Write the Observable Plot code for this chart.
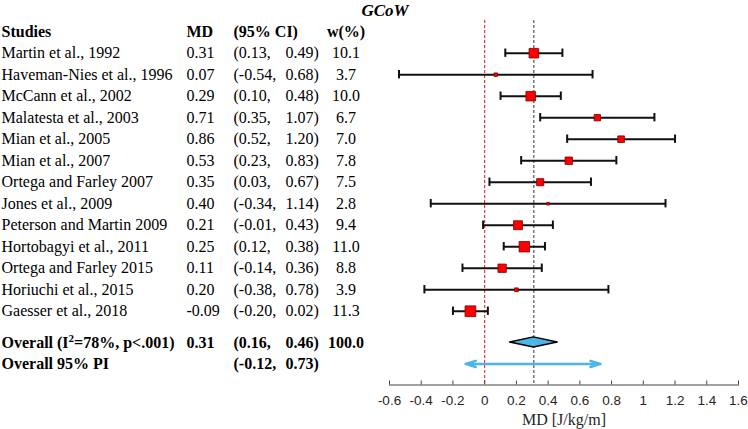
<!DOCTYPE html>
<html><head><meta charset="utf-8">
<script src="https://cdn.jsdelivr.net/npm/d3@7"></script>
<script src="https://cdn.jsdelivr.net/npm/@observablehq/plot@0.6"></script>
<style>body{margin:0;background:#fff;} svg{display:block}</style>
</head><body><div id="chart"></div>
<script>
// ---- data ----
const title = "GCoW";
const headers = ["Studies", "MD", "(95% CI)", "w(%)"];
const studies = [
  "Martin et al., 1992", "Haveman-Nies et al., 1996", "McCann et al., 2002",
  "Malatesta et al., 2003", "Mian et al., 2005", "Mian et al., 2007",
  "Ortega and Farley 2007", "Jones et al., 2009", "Peterson and Martin 2009",
  "Hortobagyi et al., 2011", "Ortega and Farley 2015", "Horiuchi et al., 2015",
  "Gaesser et al., 2018"
];
const md     = [0.31, 0.07, 0.29, 0.71, 0.86, 0.53, 0.35, 0.40, 0.21, 0.25, 0.11, 0.20, -0.09];
const ciLow  = [0.13, -0.54, 0.10, 0.35, 0.52, 0.23, 0.03, -0.34, -0.01, 0.12, -0.14, -0.38, -0.20];
const ciHigh = [0.49, 0.68, 0.48, 1.07, 1.20, 0.83, 0.67, 1.14, 0.43, 0.38, 0.36, 0.78, 0.02];
const weights = [10.1, 3.7, 10.0, 6.7, 7.0, 7.8, 7.5, 2.8, 9.4, 11.0, 8.8, 3.9, 11.3];
const overallLabel = "Overall (I\u00B2=78%, p<.001)";
const overallMD = 0.31, overallLow = 0.16, overallHigh = 0.46, overallW = 100.0;
const piLabel = "Overall 95% PI";
const piLow = -0.12, piHigh = 0.73;
const xTicks = [-0.6, -0.4, -0.2, 0, 0.2, 0.4, 0.6, 0.8, 1, 1.2, 1.4, 1.6];
const xLabel = "MD [J/kg/m]";

// ---- layout ----
const W = 748, H = 429;
const mL = 389, mR = 10, mT = 20, mB = 44.5;
const serif = "'Liberation Serif', 'Times New Roman', serif";
const sans = "'Liberation Sans', Arial, sans-serif";
const colX = {name: 1, md: 186, ci1: 233, ci2: 285, w: 345.5};
const overallY = studies.length + 1.45;
const piY = overallY + 1;
const capH = 0.195, dh = 0.235;
const blue = "#4cb6e6";

const rows = studies.map((s, i) => ({
  name: s, md: md[i], lo: ciLow[i], hi: ciHigh[i], w: weights[i], y: i + 1,
  mdT: md[i].toFixed(2), ci1: "(" + ciLow[i].toFixed(2) + ",", ci2: ciHigh[i].toFixed(2) + ")",
  wT: weights[i].toFixed(1)
}));
const summary = [
  {name: overallLabel, mdT: overallMD.toFixed(2), ci1: "(" + overallLow.toFixed(2) + ",", ci2: overallHigh.toFixed(2) + ")", wT: overallW.toFixed(1), y: overallY},
  {name: piLabel, mdT: "", ci1: "(" + piLow.toFixed(2) + ",", ci2: piHigh.toFixed(2) + ")", wT: "", y: piY}
];
const header = [{name: headers[0], mdT: headers[1], ci1: headers[2], ci2: "", wT: headers[3], y: 0}];

const diamond = [
  {y: overallY - dh, x1: overallMD, x2: overallMD},
  {y: overallY, x1: overallLow, x2: overallHigh},
  {y: overallY + dh, x1: overallMD, x2: overallMD}
];
const piMid = (piLow + piHigh) / 2;
const piArrows = [{x1: piMid, x2: piLow, y: piY}, {x1: piMid, x2: piHigh, y: piY}];

function textCols(data, bold) {
  const common = {y: "y", frameAnchor: "left", lineAnchor: "middle", fontFamily: serif, fontSize: 16, fontWeight: bold ? "bold" : "normal", fill: "#000"};
  return [
    Plot.text(data, {...common, text: "name", dx: colX.name - mL, textAnchor: "start"}),
    Plot.text(data, {...common, text: "mdT", dx: colX.md - mL, textAnchor: "start"}),
    Plot.text(data, {...common, text: "ci1", dx: colX.ci1 - mL, textAnchor: "start"}),
    Plot.text(data, {...common, text: "ci2", dx: colX.ci2 - mL, textAnchor: "start"}),
    Plot.text(data, {...common, text: "wT", dx: colX.w - mL, textAnchor: "middle"})
  ];
}

const chart = Plot.plot({
  width: W, height: H,
  marginLeft: mL, marginRight: mR, marginTop: mT, marginBottom: mB,
  x: {domain: [-0.6, 1.6], axis: null},
  y: {domain: [-0.52, 16.43], reverse: true, axis: null},
  r: {type: "linear", domain: [0, 12], range: [0, 12 * 0.95 / Math.sqrt(Math.PI)]},
  style: {fontFamily: serif, fontSize: "16px", color: "#000", background: "#fff"},
  marks: [
    Plot.ruleX([0], {stroke: "#e0141e", strokeWidth: 1, strokeDasharray: "3,2"}),
    Plot.ruleX([overallMD], {stroke: "#333", strokeWidth: 1, strokeDasharray: "3,2"}),
    Plot.ruleY(rows, {y: "y", x1: "lo", x2: "hi", stroke: "#111", strokeWidth: 2}),
    Plot.ruleX(rows, {x: "lo", y1: d => d.y - capH, y2: d => d.y + capH, stroke: "#111", strokeWidth: 2}),
    Plot.ruleX(rows, {x: "hi", y1: d => d.y - capH, y2: d => d.y + capH, stroke: "#111", strokeWidth: 2}),
    Plot.dot(rows, {x: "md", y: "y", r: "w", symbol: "square", fill: "#ff0000", stroke: "#7a0000", strokeWidth: 0.8}),
    Plot.areaX(diamond, {y: "y", x1: "x1", x2: "x2", fill: blue, stroke: "#000", strokeWidth: 1.5}),
    Plot.arrow(piArrows, {x1: "x1", x2: "x2", y1: "y", y2: "y", stroke: blue, strokeWidth: 2.5, headLength: 6.3, headAngle: 34}),
    Plot.frame({anchor: "bottom", stroke: "#444"}),
    Plot.tickX(xTicks, {x: d => d, insetTop: (H - mT - mB) - 4, stroke: "#444"}),
    Plot.axisX(xTicks, {tickSize: 0, tickPadding: 10, tickFormat: d => String(d), fontFamily: sans, fontSize: 13.5, fill: "#262626", label: null}),
    Plot.text([xLabel], {frameAnchor: "bottom", lineAnchor: "middle", dy: 34.5, fontFamily: serif, fontSize: 16, fill: "#262626"}),
    Plot.text([title], {frameAnchor: "top-left", lineAnchor: "middle", dx: 384.5 - mL, dy: -10, fontFamily: serif, fontSize: 17, fontWeight: "bold", fontStyle: "italic", textAnchor: "middle", fill: "#000"}),
    ...textCols(header, true),
    ...textCols(rows, false),
    ...textCols(summary, true)
  ]
});
// render the I² superscript as a true raised, smaller digit
chart.querySelectorAll("text").forEach(t => {
  if (t.textContent === overallLabel) {
    const [a, b] = overallLabel.split("\u00B2");
    t.textContent = "";
    const ns = "http://www.w3.org/2000/svg";
    const t1 = document.createElementNS(ns, "tspan"); t1.textContent = a;
    const t2 = document.createElementNS(ns, "tspan"); t2.textContent = "2";
    t2.setAttribute("font-size", "11"); t2.setAttribute("dy", "-6");
    const t3 = document.createElementNS(ns, "tspan"); t3.textContent = b; t3.setAttribute("dy", "6");
    t.append(t1, t2, t3);
  }
});
document.getElementById("chart").appendChild(chart);
</script>
</body></html>
